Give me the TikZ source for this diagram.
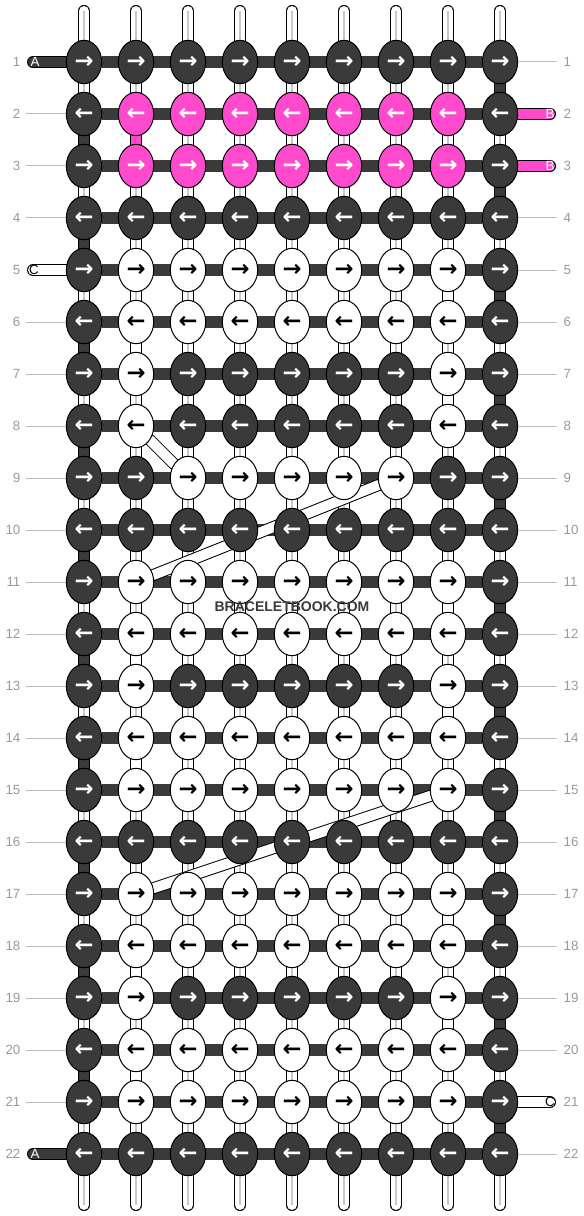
\documentclass[tikz,border=0pt]{standalone}
\usepackage{fontspec}
\setmainfont{Liberation Sans}
\newfontfamily\arrowfont{DejaVu Sans}
\usepackage{tikz}
\usetikzlibrary{shapes.geometric}
\usetikzlibrary{backgrounds}

\definecolor{strandD}{HTML}{3A3A3A}
\definecolor{strandP}{HTML}{FF4ACD}
\definecolor{labelgray}{HTML}{999999}
\definecolor{rulegray}{HTML}{BBBBBB}
\definecolor{coregray}{HTML}{C8C8C8}

\begin{document}
\begin{tikzpicture}[x=0.75pt, y=-0.75pt]
    \tikzstyle{knot}=[ellipse, draw=black, line width=0.75pt,
            minimum width=26.5pt, minimum height=32.5pt, inner sep=0pt,
            font=\arrowfont\bfseries\fontsize{17}{17}\selectfont]
    \tikzstyle{knotD}=[knot, fill=strandD, text=white]
    \tikzstyle{knotP}=[knot, fill=strandP, text=white]
    \tikzstyle{knotW}=[knot, fill=white, text=black]
    \tikzstyle{strand}=[line width=0.75pt, double distance=7.5pt, line cap=round]
    \tikzstyle{core}=[coregray, line width=1.5pt]
    \tikzstyle{rowbar}=[strandD, line width=9.5pt]
    \tikzstyle{rownum}=[text=labelgray, font=\fontsize{10}{10}\selectfont, inner sep=1pt]
    \tikzstyle{rowline}=[rulegray, line width=0.75pt]
    \tikzstyle{taillabel}=[font=\fontsize{10}{10}\selectfont, inner sep=0pt]

    \useasboundingbox (0,0) rectangle (584,1216);

        % knots, row by row
        \foreach \r/\pat in {
            1/{D,D,D,D,D,D,D,D,D}, 2/{D,P,P,P,P,P,P,P,D},
            3/{D,P,P,P,P,P,P,P,D}, 4/{D,D,D,D,D,D,D,D,D},
            5/{D,W,W,W,W,W,W,W,D}, 6/{D,W,W,W,W,W,W,W,D},
            7/{D,W,D,D,D,D,D,W,D}, 8/{D,W,D,D,D,D,D,W,D},
            9/{D,D,W,W,W,W,W,D,D}, 10/{D,D,D,D,D,D,D,D,D},
            11/{D,W,W,W,W,W,W,W,D}, 12/{D,W,W,W,W,W,W,W,D},
            13/{D,W,D,D,D,D,D,W,D}, 14/{D,W,W,W,W,W,W,W,D},
            15/{D,W,W,W,W,W,W,W,D}, 16/{D,D,D,D,D,D,D,D,D},
            17/{D,W,W,W,W,W,W,W,D}, 18/{D,W,W,W,W,W,W,W,D},
            19/{D,W,D,D,D,D,D,W,D}, 20/{D,W,W,W,W,W,W,W,D},
            21/{D,W,W,W,W,W,W,W,D}, 22/{D,D,D,D,D,D,D,D,D}}
        {
            \foreach \k [count=\c] in \pat
            {
                \ifodd\r\relax \def\arr{→}\else \def\arr{←}\fi
                \node[knot\k] (k-\r-\c) at (32+52*\c,10+52*\r) {\arr};
            }
        }

        \foreach \c in {1,...,9}
        {
            \coordinate (top-\c) at (32+52*\c,11);
            \coordinate (bot-\c) at (32+52*\c,1205);
        }

        % strand ends
        \coordinate (tailA1) at (33,62);
        \coordinate (tailB2) at (550,114);
        \coordinate (tailB3) at (550,166);
        \coordinate (tailC5) at (33,270);
        \coordinate (tailC21) at (550,1102);
        \coordinate (tailA22) at (33,1154);

        \begin{scope}[on background layer]
            \foreach \c in {1,...,9}
            {
                \draw[strand, double=white] (top-\c) -- (bot-\c);
                \draw[core] (top-\c) -- (bot-\c);
            }

            \foreach \r in {1,...,22}
            {
                \draw[rowbar] (k-\r-1) -- (k-\r-9);
            }

            % turns of A
            \foreach \r in {1,...,21}
            {
                \pgfmathtruncatemacro{\s}{\r+1}
                \pgfmathtruncatemacro{\c}{isodd(\r) ? 9 : 1}
                \draw[strand, double=strandD] (k-\r-\c) -- (k-\s-\c);
            }
            % turn of B
            \draw[strand, double=strandP] (k-2-2) -- (k-3-2);
            % turns of C
            \foreach \r/\c in {5/8, 6/2, 7/8, 11/8, 12/2, 13/8, 14/2,
                17/8, 18/2, 19/8, 20/2}
            {
                \pgfmathtruncatemacro{\s}{\r+1}
                \draw[strand, double=white] (k-\r-\c) -- (k-\s-\c);
            }
            \foreach \a/\b in {8-2/9-3, 9-7/11-2, 15-8/17-2}
            {
                \draw[strand, double=white] (k-\a) -- (k-\b);
            }

            \draw[strand, double=strandD] (tailA1) -- (k-1-1);
            \draw[strand, double=strandP] (tailB2) -- (k-2-9);
            \draw[strand, double=strandP] (tailB3) -- (k-3-9);
            \draw[strand, double=white] (tailC5) -- (k-5-1);
            \draw[strand, double=white] (tailC21) -- (k-21-9);
            \draw[strand, double=strandD] (tailA22) -- (k-22-1);
        \end{scope}

        \node[taillabel, text=white] (lblA1) at (35,62) {A};
        \node[taillabel, text=white] (lblB2) at (550,114) {B};
        \node[taillabel, text=white] (lblB3) at (550,166) {B};
        \node[taillabel, text=black] (lblC5) at (34,270) {C};
        \node[taillabel, text=black] (lblC21) at (550,1102) {C};
        \node[taillabel, text=white] (lblA22) at (35,1154) {A};

        % row numbers
        \foreach \r in {1,...,22}
        {
            \node[rownum, anchor=east] (nl-\r) at (22,10+52*\r) {\r};
            \node[rownum, anchor=west] (nr-\r) at (562,10+52*\r) {\r};
        }
        \foreach \r in {2,3,4,6,7,8,9,10,11,12,13,14,15,16,17,18,19,20,21}
        {
            \draw[rowline, shorten <=3pt] (nl-\r) -- (k-\r-1);
        }
        \foreach \r in {1,4,5,6,7,8,9,10,11,12,13,14,15,16,17,18,19,20,22}
        {
            \draw[rowline, shorten >=3.5pt] (k-\r-9) -- (nr-\r);
        }

        \node[text=strandD, font=\bfseries\fontsize{10.5}{10.5}\selectfont]
            (mark) at (292,607) {BRACELETBOOK.COM};
    \end{tikzpicture}
\end{document}
